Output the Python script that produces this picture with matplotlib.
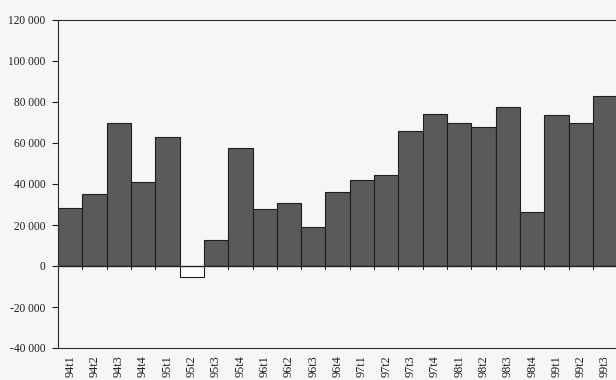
import matplotlib
matplotlib.use("Agg")
import matplotlib.pyplot as plt
from matplotlib.ticker import FuncFormatter

quarters = ["94t1", "94t2", "94t3", "94t4", "95t1", "95t2", "95t3", "95t4",
            "96t1", "96t2", "96t3", "96t4", "97t1", "97t2", "97t3", "97t4",
            "98t1", "98t2", "98t3", "98t4", "99t1", "99t2", "99t3"]
values = [28500, 35000, 70000, 41000, 63000, -5500, 12800, 57500,
          27800, 30500, 19200, 36000, 42000, 44200, 66000, 74000,
          69800, 67800, 77600, 26300, 73600, 69600, 83000]
y_ticks = [-40000, -20000, 0, 20000, 40000, 60000, 80000, 100000, 120000]

W, H, DPI = 616, 380, 100
bg = "#f6f7f5"
fig = plt.figure(figsize=(W / DPI, H / DPI), dpi=DPI, facecolor=bg)
ax = fig.add_axes([58 / W, 1 - 348 / H, (W - 58) / W + 0.002, (348 - 20) / H])
ax.set_facecolor(bg)

x = list(range(len(values)))
fills = ["#5a5a5a" if v >= 0 else "#ffffff" for v in values]
ax.bar(x, values, width=1.0, color=fills, edgecolor="#1e1e1e", linewidth=0.8, zorder=2)

ax.set_xlim(-0.5, len(values) - 0.5)
ax.set_ylim(-40000, 120000)

# zero line with category tick marks at bar boundaries
ax.axhline(0, color="#1e1e1e", linewidth=0.9, zorder=3)
for b in range(len(values) + 1):
    ax.plot([b - 0.5, b - 0.5], [0, -1400], color="#1e1e1e", linewidth=0.7, zorder=3)

ax.spines["right"].set_visible(False)
for side in ["left", "top", "bottom"]:
    ax.spines[side].set_color("#2a2a2a")
    ax.spines[side].set_linewidth(0.8)

serif = ["Liberation Serif", "DejaVu Serif"]
ax.set_yticks(y_ticks)
ax.yaxis.set_major_formatter(FuncFormatter(lambda v, p: f"{int(v):,}".replace(",", " ")))
ax.tick_params(axis="y", direction="out", length=4, width=0.8, labelsize=8.3, pad=5, colors="#1e1e1e")
for lab in ax.get_yticklabels():
    lab.set_fontfamily(serif)

ax.set_xticks(x)
ax.set_xticklabels(quarters, rotation=90, fontsize=8.8, fontfamily=serif, color="#1e1e1e")
ax.tick_params(axis="x", length=0, pad=5)

fig.savefig("out.png", dpi=DPI, facecolor=bg)
